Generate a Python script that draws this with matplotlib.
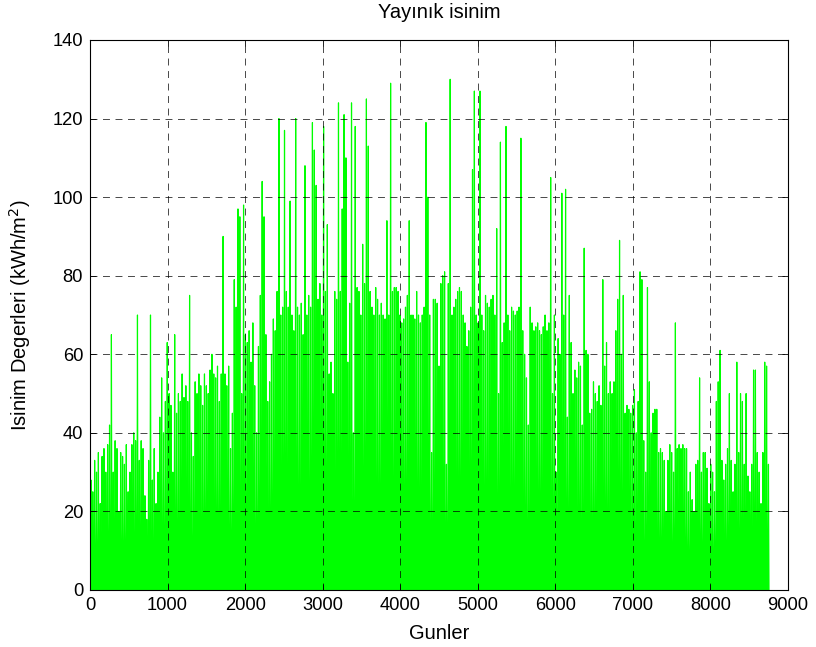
import numpy as np
import matplotlib
matplotlib.use("Agg")
import matplotlib.pyplot as plt

# Daily peak of diffuse irradiance over the year (kWh/m2), day 0..364
daily_peak = [
    28, 25, 33, 30, 35, 22, 34, 36, 30, 37,
    42, 65, 30, 38, 36, 20, 35, 34, 32, 37,
    25, 30, 37, 40, 38, 70, 33, 38, 36, 24,
    18, 33, 70, 28, 36, 22, 30, 44, 54, 40,
    48, 63, 50, 47, 30, 65, 45, 50, 48, 55,
    49, 52, 48, 75, 40, 34, 53, 50, 55, 52,
    47, 55, 52, 50, 56, 60, 55, 54, 57, 48,
    55, 90, 55, 52, 57, 36, 45, 79, 72, 97,
    95, 50, 98, 65, 63, 66, 58, 68, 52, 40,
    62, 75, 104, 95, 65, 48, 53, 60, 69, 66,
    76, 120, 70, 72, 117, 76, 72, 99, 70, 66,
    120, 72, 70, 73, 65, 108, 70, 75, 72, 119,
    112, 103, 74, 78, 70, 118, 76, 93, 55, 58,
    50, 76, 74, 124, 76, 97, 121, 110, 58, 73,
    124, 40, 118, 77, 76, 70, 88, 78, 125, 113,
    76, 72, 70, 77, 74, 70, 73, 70, 69, 94,
    70, 129, 76, 77, 77, 76, 70, 68, 69, 72,
    75, 94, 70, 70, 69, 76, 70, 68, 70, 72,
    119, 100, 70, 35, 74, 74, 73, 57, 78, 80,
    81, 32, 78, 130, 70, 72, 74, 76, 77, 76,
    70, 68, 62, 66, 72, 107, 127, 70, 68, 127,
    70, 66, 75, 73, 72, 74, 75, 70, 92, 50,
    114, 63, 68, 118, 70, 66, 72, 71, 70, 71,
    72, 115, 66, 60, 54, 42, 72, 68, 66, 67,
    68, 66, 65, 67, 70, 66, 68, 105, 50, 70,
    30, 64, 60, 101, 70, 102, 44, 75, 63, 50,
    56, 54, 58, 57, 42, 87, 61, 60, 45, 46,
    53, 50, 48, 52, 47, 79, 57, 63, 50, 53,
    50, 53, 66, 74, 89, 60, 75, 45, 47, 46,
    45, 47, 51, 40, 48, 81, 79, 38, 30, 77,
    53, 40, 45, 46, 46, 35, 36, 35, 33, 20,
    33, 37, 35, 30, 68, 36, 37, 36, 37, 36,
    36, 25, 30, 23, 20, 32, 33, 54, 30, 35,
    35, 31, 22, 32, 30, 25, 48, 53, 61, 33,
    28, 32, 36, 50, 33, 25, 32, 58, 35, 50,
    48, 32, 50, 29, 25, 32, 56, 56, 35, 30,
    22, 35, 58, 57, 32,
]

# Hour of day for sunrise, noon and sunset
day_hours = [5, 12, 19]

peaks = np.array(daily_peak, dtype=float)
start = np.arange(len(peaks)) * 24
hours = (start[:, None] + np.array(day_hours)[None, :]).ravel()
values = np.column_stack([np.zeros_like(peaks), peaks, np.zeros_like(peaks)]).ravel()

plt.rcParams["font.family"] = ["Liberation Sans", "DejaVu Sans"]
plt.rcParams["lines.scale_dashes"] = False

fig = plt.figure(figsize=(8.16, 6.47), dpi=100)
ax = fig.add_axes([90 / 816, 1 - 590 / 647, 698 / 816, 550 / 647])

ax.plot(hours, values, color=(0, 1, 0), linewidth=0.85)

ax.set_xlim(0, 9000)
ax.set_ylim(0, 140)
ax.set_xticks(np.arange(0, 9001, 1000))
ax.set_yticks(np.arange(0, 141, 20))
ax.grid(True, color="k", linestyle=(0, (5, 4)), linewidth=0.5)
ax.set_axisbelow(False)
ax.tick_params(direction="in", length=4, width=0.6, labelsize=13.2,
               top=True, right=True, pad=5)
for s in ax.spines.values():
    s.set_linewidth(0.8)

ax.set_title("Yayınık isinim", fontsize=14.5, pad=16)
ax.set_xlabel("Gunler", fontsize=14.5, labelpad=7)
ax.set_ylabel("Isinim Degerleri (kWh/m$^2$)", fontsize=14.5, labelpad=14)

fig.savefig("out.png", dpi=100)
